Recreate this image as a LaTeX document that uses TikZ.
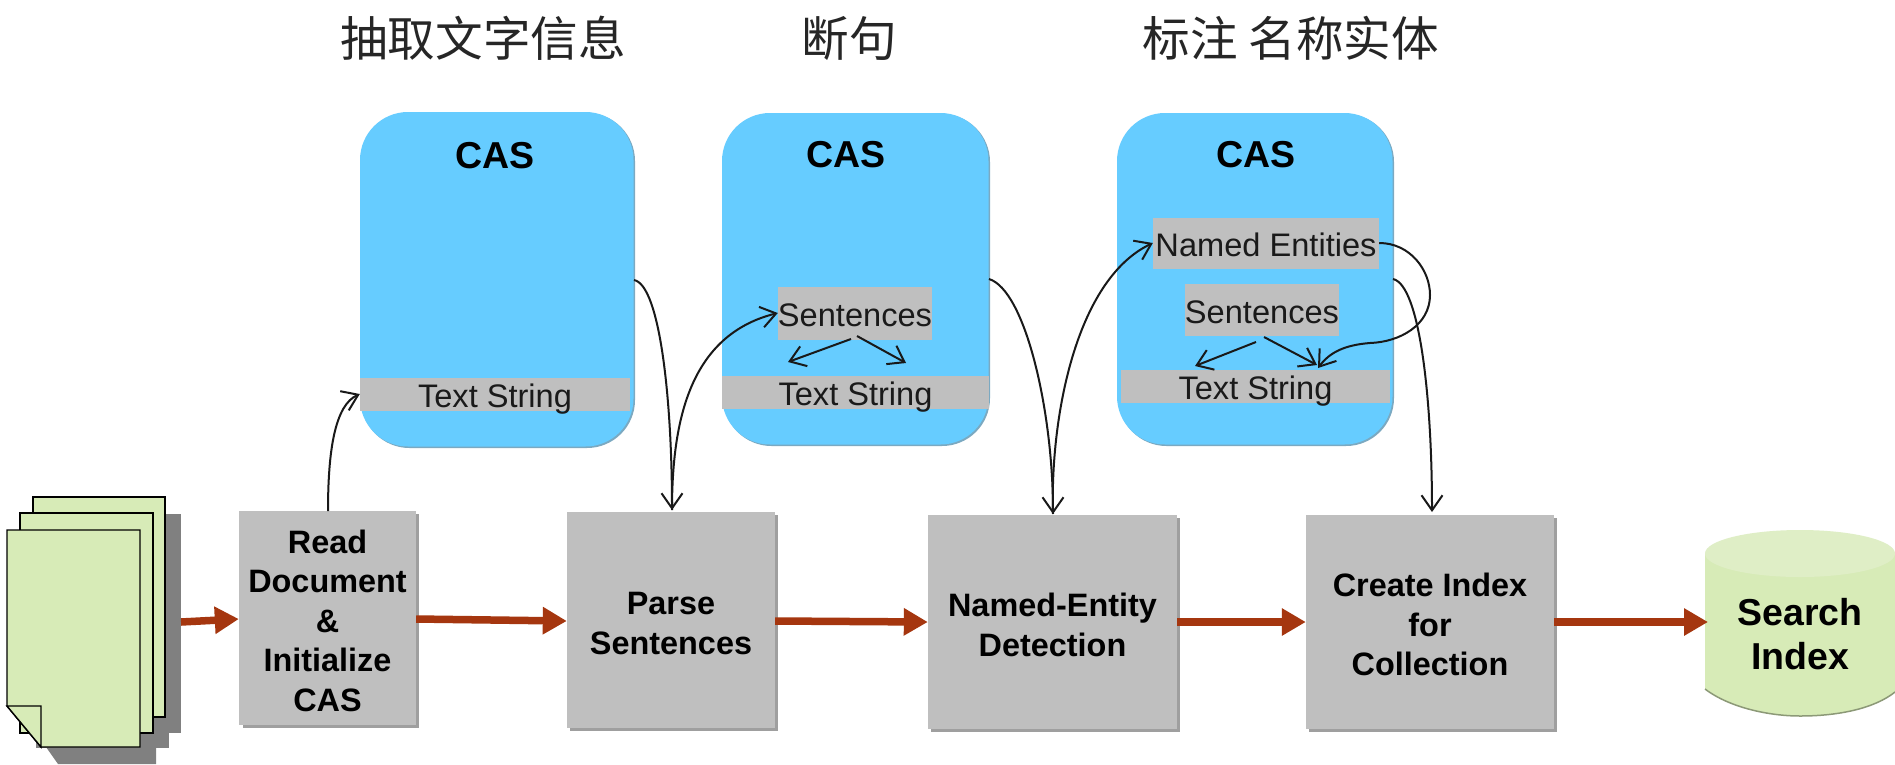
\documentclass[tikz,border=0pt]{standalone}
\usepackage{fontspec}
\setmainfont{Liberation Sans}
\newfontfamily\cjk{Noto Sans CJK SC}
\usetikzlibrary{arrows.meta,calc}
\definecolor{casblue}{HTML}{66CCFF}
\definecolor{boxgray}{HTML}{BFBFBF}
\definecolor{shadowgray}{HTML}{808080}
\definecolor{paper}{HTML}{D7EBB7}
\definecolor{cyltop}{HTML}{DFEEC6}
\definecolor{flow}{HTML}{A5360F}
\definecolor{txt}{HTML}{1A1A1A}
\newcommand{\topgap}{\rule{0pt}{29pt}}
\tikzset{
  casbox/.style={fill=casblue,rounded corners=48pt},
  casedge/.style={fill=casblue!65!black!70,rounded corners=48pt},
  innerbox/.style={fill=boxgray,inner sep=0pt,text=txt,font=\fontsize{32.6}{36}\selectfont,text height=30pt,text depth=3pt},
  proc/.style={fill=boxgray,inner sep=0pt,align=center,font=\bfseries\fontsize{32.4}{39.5}\selectfont},
  procshadow/.style={fill=gray!75},
  castitle/.style={font=\bfseries\fontsize{37.5}{42}\selectfont},
  headline/.style={font=\cjk\fontsize{47.6}{52}\selectfont,text=black!85},
  page/.style={fill=paper,draw=black,line width=1.4pt},
  pshadow/.style={fill=shadowgray},
  flowline/.style={draw=flow,line width=7.5pt,-{Triangle[length=24pt,width=26pt]}},
  thinarrow/.style={draw=black!90,line width=2pt,-{Straight Barb[length=15pt,width=21pt,line width=2pt]}}
}
\begin{document}
\begin{tikzpicture}[x=1pt,y=-1pt]
\useasboundingbox[fill=white] (0,0) rectangle (1895,764);

% titles
\node[headline] (t1) at (483,38) {抽取文字信息};
\node[headline] (t2) at (849,38) {断句};
\node[headline] (t3) at (1291,38) {标注 名称实体};

% CAS 1
\fill[casedge] (361.5,113) rectangle (635,448);
\fill[casbox] (360,112) rectangle (633.5,446.5);
\coordinate (cas1r) at (634,280);
\node[castitle] (c1) at (495,156) {CAS};
\node[innerbox,minimum width=270pt,minimum height=30pt] (ts1) at (495,394) {Text String};

% CAS 2
\fill[casedge] (723.5,114) rectangle (990,446);
\fill[casbox] (722,113) rectangle (988.5,444.5);
\coordinate (cas2r) at (989,279);
\node[castitle] (c2) at (846,155) {CAS};
\node[innerbox,minimum width=152pt,minimum height=53pt] (se2) at (855,313) {Sentences};
\node[innerbox,minimum width=267pt,minimum height=29pt] (ts2) at (855.5,392) {Text String};

% CAS 3
\fill[casedge] (1118.5,114) rectangle (1394,446);
\fill[casbox] (1117,113) rectangle (1392.5,444.5);
\coordinate (cas3r) at (1393,279);
\node[castitle] (c3) at (1256,155) {CAS};
\node[innerbox,minimum width=226pt,minimum height=51pt] (ne3) at (1266,243) {Named Entities};
\node[innerbox,minimum width=152pt,minimum height=52pt] (se3) at (1262,310) {Sentences};
\node[innerbox,minimum width=269pt,minimum height=29pt] (ts3) at (1255.5,386) {Text String};

% documents
\fill[pshadow] (49,514) rectangle (181,733);
\fill[pshadow] (36,530) rectangle (169,748);
\fill[pshadow] (46,747) -- (156,747) -- (156,764) -- (58,764) -- cycle;
\filldraw[page] (33,497) rectangle (165,717);
\filldraw[page] (20,513) rectangle (153,733);
\filldraw[page] (7,530) -- (140,530) -- (140,747) -- (41,747) -- (7,706) -- cycle;
\filldraw[page] (7,706) -- (41,706) -- (41,747) -- cycle;
\coordinate (docs) at (181,622);

% process boxes
\fill[procshadow] (243,514) rectangle (419,728);
\node[proc,minimum width=177pt,minimum height=214pt] (read) at (327.5,618) {\topgap Read\\Document\\\&\\Initialize\\CAS};
\fill[procshadow] (570,515) rectangle (778,731);
\node[proc,minimum width=208pt,minimum height=216pt] (parse) at (671,620) {\topgap Parse\\Sentences};
\fill[procshadow] (931,518) rectangle (1180,732);
\node[proc,minimum width=249pt,minimum height=214pt] (ned) at (1052.5,622) {\topgap Named-Entity\\Detection};
\fill[procshadow] (1309,518) rectangle (1557,732);
\node[proc,minimum width=248pt,minimum height=214pt] (idx) at (1430,622) {\topgap Create Index\\for\\Collection};

% cylinder
\fill[paper] (1705,553) -- (1705,689) .. controls (1730,708) and (1770,716) .. (1800,716)
  .. controls (1840,716) and (1875,708) .. (1895,692) -- (1895,553) -- cycle;
\draw[line width=1.5pt,draw=paper!65!black] (1705,689) .. controls (1730,708) and (1770,716) .. (1800,716)
  .. controls (1840,716) and (1875,708) .. (1895,692);
\fill[cyltop] (1800,553.5) ellipse [x radius=95,y radius=23.5];
\node[font=\bfseries\fontsize{37.5}{44}\selectfont,align=center,inner sep=0pt] (si) at (1800,634) {Search\\Index};
\coordinate (siw) at (1708,622);

% flow arrows
\draw[flowline] (docs) -- (read.west |- 0,619);
\draw[flowline] (read.east |- 0,619) -- (parse.west |- 0,621);
\draw[flowline] (parse.east |- 0,621) -- (ned.west |- 0,622);
\draw[flowline] (ned.east |- 0,622) -- (idx.west |- 0,622);
\draw[flowline] (idx.east |- 0,622) -- (siw);

% thin connectors
\draw[thinarrow] (328,511) .. controls (328,450) and (335,405) .. (ts1.west);
\draw[thinarrow] (cas1r) .. controls (660,285) and (672,400) .. (672,510);
\draw[thinarrow] (672,510) .. controls (672,420) and (690,335) .. (se2.west);
\draw[thinarrow] (cas2r) .. controls (1025,290) and (1053,410) .. (1053,514);
\draw[thinarrow] (1053,514) .. controls (1050,420) and (1075,280) .. (ne3.west);
\draw[thinarrow] (cas3r) .. controls (1420,285) and (1432,400) .. (1432,512);
\draw[thinarrow] (ne3.east) .. controls (1410,243) and (1430,270) .. (1430,295) .. controls (1430,325) and (1400,342) .. (1370,343) .. controls (1345,345) and (1330,352) .. (1318,368);

\draw[thinarrow] (851,339) -- (788,362);
\draw[thinarrow] (857,336) -- (906,363);
\draw[thinarrow] (1256,342) -- (1195,366);
\draw[thinarrow] (1264,337) -- (1317,365);
\end{tikzpicture}
\end{document}
